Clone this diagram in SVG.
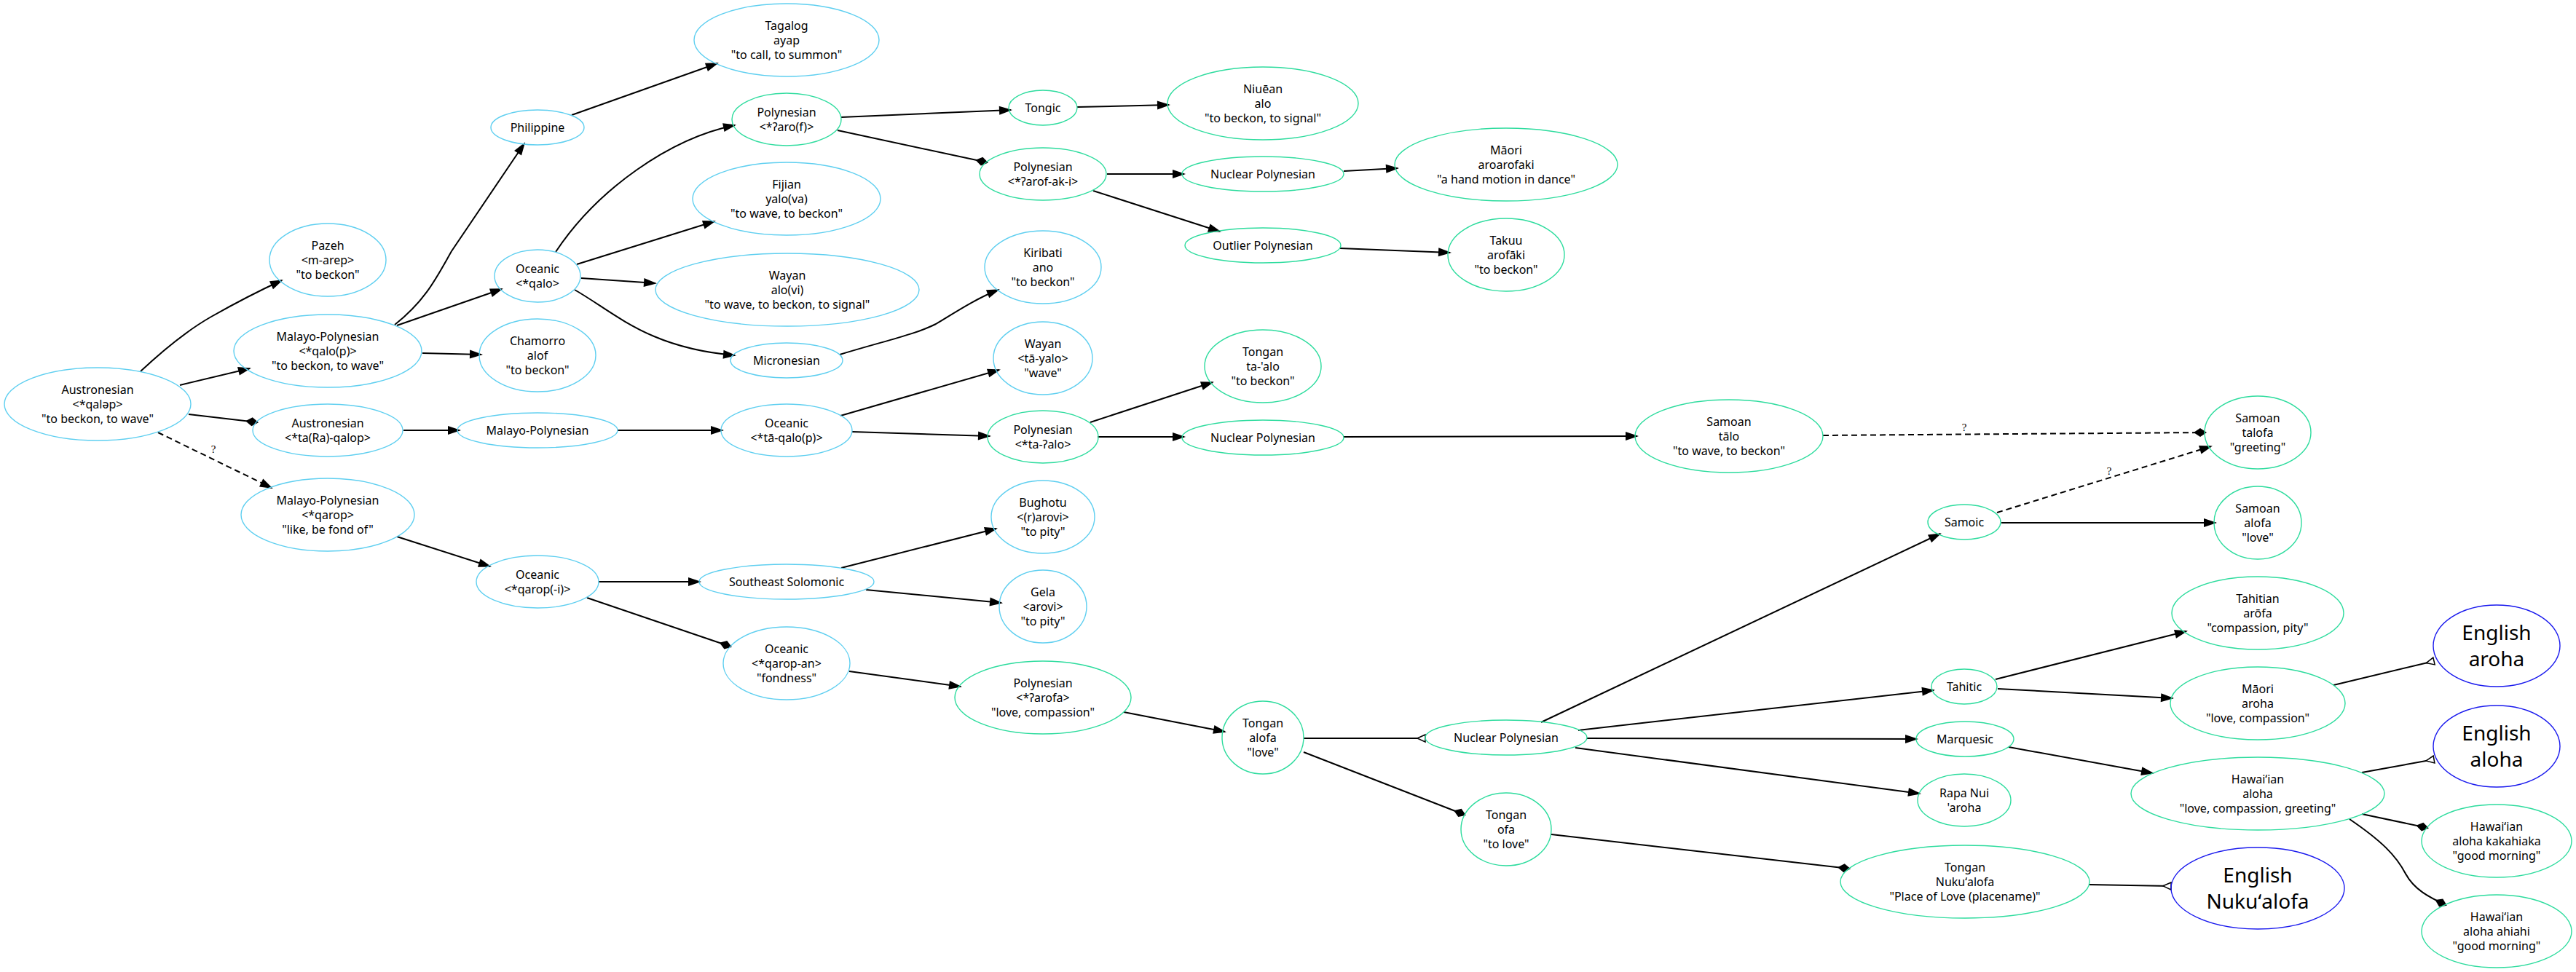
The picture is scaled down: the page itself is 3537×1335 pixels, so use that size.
<svg xmlns="http://www.w3.org/2000/svg" width="3537" height="1335" viewBox="0 0 3537 1335">
<style>
.n ellipse{fill:none;stroke-width:1.4}
.b ellipse{stroke:#5fcff0}
.g ellipse{stroke:#2edc9e}
.e ellipse{stroke:#1a1aee}
text{font-family:"Noto Sans","DejaVu Sans",sans-serif;font-size:16px;text-anchor:middle;fill:#000}
.e text{font-size:28px}
.edge{fill:none;stroke:#000;stroke-width:2}
.dash{stroke-dasharray:8,5}
text.q{font-family:"Liberation Serif",serif;font-size:15px}
</style>
<defs>
<marker id="arr" markerUnits="userSpaceOnUse" markerWidth="18" markerHeight="12" refX="16" refY="6" orient="auto" overflow="visible"><path d="M0,0 L18,6 L0,12 z" fill="#000"/></marker>
<marker id="dia" markerUnits="userSpaceOnUse" markerWidth="18" markerHeight="12" refX="16" refY="6" orient="auto" overflow="visible"><path d="M0,6 L9,0 L18,6 L9,12 z" fill="#000"/></marker>
<marker id="oinv" markerUnits="userSpaceOnUse" markerWidth="12" markerHeight="10" refX="11" refY="5" orient="auto" overflow="visible"><path d="M0,5 L11,0 L11,10 z" fill="#fff" stroke="#000" stroke-width="1.5"/></marker>
</defs>
<rect width="3537" height="1335" fill="#fff"/>
<g id="connectors">
<path class="edge" d="M193,510 C225,480 255,455 290,435 C320,418 350,402 387,385" marker-end="url(#arr)"/>
<path class="edge" d="M247,529 L343,506" marker-end="url(#arr)"/>
<path class="edge" d="M259,569 L353,580" marker-end="url(#dia)"/>
<path class="edge dash" d="M217,594 L373,670" marker-end="url(#arr)"/>
<text class="q" x="293" y="622">?</text>
<path class="edge" d="M542,446 C585,412 600,380 620,345 L720,197" marker-end="url(#arr)"/>
<path class="edge" d="M545,447 L689,397" marker-end="url(#arr)"/>
<path class="edge" d="M580,485 L661,487" marker-end="url(#arr)"/>
<path class="edge" d="M785,158 L985,87" marker-end="url(#arr)"/>
<path class="edge" d="M763,346 C820,260 920,190 1009,172" marker-end="url(#arr)"/>
<path class="edge" d="M792,363 L981,304" marker-end="url(#arr)"/>
<path class="edge" d="M798,382 L900,389" marker-end="url(#arr)"/>
<path class="edge" d="M789,398 C845,430 890,478 1009,488" marker-end="url(#arr)"/>
<path class="edge" d="M1153,487 C1215,468 1255,460 1285,445 C1310,430 1340,410 1371,398" marker-end="url(#arr)"/>
<path class="edge" d="M1155,161 L1388,151" marker-end="url(#arr)"/>
<path class="edge" d="M1150,179 L1355,223" marker-end="url(#dia)"/>
<path class="edge" d="M1479,147 L1605,144" marker-end="url(#arr)"/>
<path class="edge" d="M1520,239 L1626,239" marker-end="url(#arr)"/>
<path class="edge" d="M1501,262 L1675,318" marker-end="url(#arr)"/>
<path class="edge" d="M1845,235 L1919,231" marker-end="url(#arr)"/>
<path class="edge" d="M1840,341 L1991,347" marker-end="url(#arr)"/>
<path class="edge" d="M554,591 L631,591" marker-end="url(#arr)"/>
<path class="edge" d="M848,591 L992,591" marker-end="url(#arr)"/>
<path class="edge" d="M1154,571 L1372,508" marker-end="url(#arr)"/>
<path class="edge" d="M1170,593 L1359,599" marker-end="url(#arr)"/>
<path class="edge" d="M1497,580 L1665,525" marker-end="url(#arr)"/>
<path class="edge" d="M1507,600 L1626,600" marker-end="url(#arr)"/>
<path class="edge" d="M1845,600 L2248,599" marker-end="url(#arr)"/>
<path class="edge dash" d="M2503,598 L3028,594" marker-end="url(#dia)"/>
<text class="q" x="2697" y="592">?</text>
<path class="edge dash" d="M2742,704 L3036,613" marker-end="url(#arr)"/>
<text class="q" x="2896" y="652">?</text>
<path class="edge" d="M2748,718 L3042,718" marker-end="url(#arr)"/>
<path class="edge" d="M545,737 L673,778" marker-end="url(#arr)"/>
<path class="edge" d="M822,799 L961,799" marker-end="url(#arr)"/>
<path class="edge" d="M806,821 L1003,888" marker-end="url(#dia)"/>
<path class="edge" d="M1155,780 L1368,726" marker-end="url(#arr)"/>
<path class="edge" d="M1189,810 L1375,828" marker-end="url(#arr)"/>
<path class="edge" d="M1166,922 L1319,943" marker-end="url(#arr)"/>
<path class="edge" d="M1543,978 L1682,1005" marker-end="url(#arr)"/>
<path class="edge" d="M1790,1014 L1957,1014" marker-end="url(#oinv)"/>
<path class="edge" d="M1790,1033 L2011,1119" marker-end="url(#dia)"/>
<path class="edge" d="M2116,992 L2664,733" marker-end="url(#arr)"/>
<path class="edge" d="M2167,1003 L2655,948" marker-end="url(#arr)"/>
<path class="edge" d="M2179,1014 L2632,1015" marker-end="url(#arr)"/>
<path class="edge" d="M2163,1027 L2636,1090" marker-end="url(#arr)"/>
<path class="edge" d="M2130,1146 L2539,1193" marker-end="url(#dia)"/>
<path class="edge" d="M2740,933 L3002,867" marker-end="url(#arr)"/>
<path class="edge" d="M2743,946 L2983,959" marker-end="url(#arr)"/>
<path class="edge" d="M2758,1026 L2956,1062" marker-end="url(#arr)"/>
<path class="edge" d="M3204,941 L3342,908" marker-end="url(#oinv)"/>
<path class="edge" d="M3243,1061 L3342,1043" marker-end="url(#oinv)"/>
<path class="edge" d="M3243,1118 L3333,1137" marker-end="url(#dia)"/>
<path class="edge" d="M3226,1125 C3270,1155 3290,1175 3303,1200 C3315,1222 3335,1232 3358,1243" marker-end="url(#dia)"/>
<path class="edge" d="M2869,1215 L2981,1217" marker-end="url(#oinv)"/>
</g>
<g id="n_austronesian1" class="n b"><ellipse cx="134" cy="555" rx="128" ry="50"/><text x="134" y="541">Austronesian</text><text x="134" y="561">&lt;*qaləp&gt;</text><text x="134" y="581">"to beckon, to wave"</text></g>
<g id="n_pazeh" class="n b"><ellipse cx="450" cy="357" rx="80" ry="50"/><text x="450" y="343">Pazeh</text><text x="450" y="363">&lt;m-arep&gt;</text><text x="450" y="383">"to beckon"</text></g>
<g id="n_mp1" class="n b"><ellipse cx="450" cy="482" rx="129" ry="50"/><text x="450" y="468">Malayo-Polynesian</text><text x="450" y="488">&lt;*qalo(p)&gt;</text><text x="450" y="508">"to beckon, to wave"</text></g>
<g id="n_austronesian2" class="n b"><ellipse cx="450" cy="591" rx="103" ry="36"/><text x="450" y="587">Austronesian</text><text x="450" y="607">&lt;*ta(Ra)-qalop&gt;</text></g>
<g id="n_mp3" class="n b"><ellipse cx="450" cy="707" rx="119" ry="50"/><text x="450" y="693">Malayo-Polynesian</text><text x="450" y="713">&lt;*qarop&gt;</text><text x="450" y="733">"like, be fond of"</text></g>
<g id="n_philippine" class="n b"><ellipse cx="738" cy="175" rx="64" ry="24"/><text x="738" y="181">Philippine</text></g>
<g id="n_oceanic1" class="n b"><ellipse cx="738" cy="379" rx="59" ry="36"/><text x="738" y="375">Oceanic</text><text x="738" y="395">&lt;*qalo&gt;</text></g>
<g id="n_chamorro" class="n b"><ellipse cx="738" cy="488" rx="80" ry="50"/><text x="738" y="474">Chamorro</text><text x="738" y="494">alof</text><text x="738" y="514">"to beckon"</text></g>
<g id="n_mp2" class="n b"><ellipse cx="738" cy="591" rx="110" ry="24"/><text x="738" y="597">Malayo-Polynesian</text></g>
<g id="n_oceanic4" class="n b"><ellipse cx="738" cy="799" rx="84" ry="36"/><text x="738" y="795">Oceanic</text><text x="738" y="815">&lt;*qarop(-i)&gt;</text></g>
<g id="n_tagalog" class="n b"><ellipse cx="1080" cy="55" rx="127" ry="50"/><text x="1080" y="41">Tagalog</text><text x="1080" y="61">ayap</text><text x="1080" y="81">"to call, to summon"</text></g>
<g id="n_polyA" class="n g"><ellipse cx="1080" cy="164" rx="75" ry="36"/><text x="1080" y="160">Polynesian</text><text x="1080" y="180">&lt;*ʔaro(f)&gt;</text></g>
<g id="n_fijian" class="n b"><ellipse cx="1080" cy="273" rx="129" ry="50"/><text x="1080" y="259">Fijian</text><text x="1080" y="279">yalo(va)</text><text x="1080" y="299">"to wave, to beckon"</text></g>
<g id="n_wayan1" class="n b"><ellipse cx="1081" cy="398" rx="181" ry="50"/><text x="1081" y="384">Wayan</text><text x="1081" y="404">alo(vi)</text><text x="1081" y="424">"to wave, to beckon, to signal"</text></g>
<g id="n_micronesian" class="n b"><ellipse cx="1080" cy="495" rx="77" ry="24"/><text x="1080" y="501">Micronesian</text></g>
<g id="n_oceanic2" class="n b"><ellipse cx="1080" cy="591" rx="90" ry="36"/><text x="1080" y="587">Oceanic</text><text x="1080" y="607">&lt;*tā-qalo(p)&gt;</text></g>
<g id="n_sesolomonic" class="n b"><ellipse cx="1080" cy="799" rx="120" ry="24"/><text x="1080" y="805">Southeast Solomonic</text></g>
<g id="n_oceanic5" class="n b"><ellipse cx="1080" cy="911" rx="87" ry="50"/><text x="1080" y="897">Oceanic</text><text x="1080" y="917">&lt;*qarop-an&gt;</text><text x="1080" y="937">"fondness"</text></g>
<g id="n_tongic" class="n g"><ellipse cx="1432" cy="148" rx="47" ry="24"/><text x="1432" y="154">Tongic</text></g>
<g id="n_polyB" class="n g"><ellipse cx="1432" cy="239" rx="87" ry="36"/><text x="1432" y="235">Polynesian</text><text x="1432" y="255">&lt;*ʔarof-ak-i&gt;</text></g>
<g id="n_kiribati" class="n b"><ellipse cx="1432" cy="367" rx="80" ry="50"/><text x="1432" y="353">Kiribati</text><text x="1432" y="373">ano</text><text x="1432" y="393">"to beckon"</text></g>
<g id="n_wayan2" class="n b"><ellipse cx="1432" cy="492" rx="68" ry="50"/><text x="1432" y="478">Wayan</text><text x="1432" y="498">&lt;tā-yalo&gt;</text><text x="1432" y="518">"wave"</text></g>
<g id="n_polyC" class="n g"><ellipse cx="1432" cy="600" rx="76" ry="36"/><text x="1432" y="596">Polynesian</text><text x="1432" y="616">&lt;*ta-ʔalo&gt;</text></g>
<g id="n_bughotu" class="n b"><ellipse cx="1432" cy="710" rx="71" ry="50"/><text x="1432" y="696">Bughotu</text><text x="1432" y="716">&lt;(r)arovi&gt;</text><text x="1432" y="736">"to pity"</text></g>
<g id="n_gela" class="n b"><ellipse cx="1432" cy="833" rx="60" ry="50"/><text x="1432" y="819">Gela</text><text x="1432" y="839">&lt;arovi&gt;</text><text x="1432" y="859">"to pity"</text></g>
<g id="n_polyD" class="n g"><ellipse cx="1432" cy="958" rx="121" ry="50"/><text x="1432" y="944">Polynesian</text><text x="1432" y="964">&lt;*ʔarofa&gt;</text><text x="1432" y="984">"love, compassion"</text></g>
<g id="n_niuean" class="n g"><ellipse cx="1734" cy="142" rx="131" ry="50"/><text x="1734" y="128">Niuēan</text><text x="1734" y="148">alo</text><text x="1734" y="168">"to beckon, to signal"</text></g>
<g id="n_np1" class="n g"><ellipse cx="1734" cy="239" rx="111" ry="24"/><text x="1734" y="245">Nuclear Polynesian</text></g>
<g id="n_outlier" class="n g"><ellipse cx="1734" cy="337" rx="107" ry="24"/><text x="1734" y="343">Outlier Polynesian</text></g>
<g id="n_tongan_taalo" class="n g"><ellipse cx="1734" cy="503" rx="80" ry="50"/><text x="1734" y="489">Tongan</text><text x="1734" y="509">ta-'alo</text><text x="1734" y="529">"to beckon"</text></g>
<g id="n_np2" class="n g"><ellipse cx="1734" cy="601" rx="111" ry="24"/><text x="1734" y="607">Nuclear Polynesian</text></g>
<g id="n_tongan_alofa" class="n g"><ellipse cx="1734" cy="1013" rx="56" ry="50"/><text x="1734" y="999">Tongan</text><text x="1734" y="1019">alofa</text><text x="1734" y="1039">"love"</text></g>
<g id="n_maori1" class="n g"><ellipse cx="2068" cy="226" rx="153" ry="50"/><text x="2068" y="212">Māori</text><text x="2068" y="232">aroarofaki</text><text x="2068" y="252">"a hand motion in dance"</text></g>
<g id="n_takuu" class="n g"><ellipse cx="2068" cy="350" rx="80" ry="50"/><text x="2068" y="336">Takuu</text><text x="2068" y="356">arofāki</text><text x="2068" y="376">"to beckon"</text></g>
<g id="n_np3" class="n g"><ellipse cx="2068" cy="1013" rx="111" ry="24"/><text x="2068" y="1019">Nuclear Polynesian</text></g>
<g id="n_tongan_ofa" class="n g"><ellipse cx="2068" cy="1139" rx="62" ry="50"/><text x="2068" y="1125">Tongan</text><text x="2068" y="1145">ofa</text><text x="2068" y="1165">"to love"</text></g>
<g id="n_samoan_talo" class="n g"><ellipse cx="2374" cy="599" rx="129" ry="50"/><text x="2374" y="585">Samoan</text><text x="2374" y="605">tālo</text><text x="2374" y="625">"to wave, to beckon"</text></g>
<g id="n_samoic" class="n g"><ellipse cx="2697" cy="717" rx="50" ry="24"/><text x="2697" y="723">Samoic</text></g>
<g id="n_tahitic" class="n g"><ellipse cx="2697" cy="943" rx="45" ry="24"/><text x="2697" y="949">Tahitic</text></g>
<g id="n_marquesic" class="n g"><ellipse cx="2698" cy="1015" rx="67" ry="24"/><text x="2698" y="1021">Marquesic</text></g>
<g id="n_rapanui" class="n g"><ellipse cx="2697" cy="1099" rx="64" ry="36"/><text x="2697" y="1095">Rapa Nui</text><text x="2697" y="1115">'aroha</text></g>
<g id="n_tongan_nukualofa" class="n g"><ellipse cx="2698" cy="1211" rx="171" ry="50"/><text x="2698" y="1197">Tongan</text><text x="2698" y="1217">Nukuʻalofa</text><text x="2698" y="1237">"Place of Love (placename)"</text></g>
<g id="n_samoan_talofa" class="n g"><ellipse cx="3100" cy="594" rx="73" ry="50"/><text x="3100" y="580">Samoan</text><text x="3100" y="600">talofa</text><text x="3100" y="620">"greeting"</text></g>
<g id="n_samoan_alofa" class="n g"><ellipse cx="3100" cy="718" rx="60" ry="50"/><text x="3100" y="704">Samoan</text><text x="3100" y="724">alofa</text><text x="3100" y="744">"love"</text></g>
<g id="n_tahitian" class="n g"><ellipse cx="3100" cy="842" rx="118" ry="50"/><text x="3100" y="828">Tahitian</text><text x="3100" y="848">arōfa</text><text x="3100" y="868">"compassion, pity"</text></g>
<g id="n_maori2" class="n g"><ellipse cx="3100" cy="966" rx="120" ry="50"/><text x="3100" y="952">Māori</text><text x="3100" y="972">aroha</text><text x="3100" y="992">"love, compassion"</text></g>
<g id="n_hawaiian" class="n g"><ellipse cx="3100" cy="1090" rx="174" ry="50"/><text x="3100" y="1076">Hawaiʻian</text><text x="3100" y="1096">aloha</text><text x="3100" y="1116">"love, compassion, greeting"</text></g>
<g id="n_eng_nukualofa" class="n e"><ellipse cx="3100" cy="1220" rx="119" ry="56"/><text x="3100" y="1212">English</text><text x="3100" y="1248">Nukuʻalofa</text></g>
<g id="n_eng_aroha" class="n e"><ellipse cx="3428" cy="887" rx="87" ry="56"/><text x="3428" y="879">English</text><text x="3428" y="915">aroha</text></g>
<g id="n_eng_aloha" class="n e"><ellipse cx="3428" cy="1025" rx="87" ry="56"/><text x="3428" y="1017">English</text><text x="3428" y="1053">aloha</text></g>
<g id="n_haw_kakahiaka" class="n g"><ellipse cx="3428" cy="1155" rx="103" ry="50"/><text x="3428" y="1141">Hawaiʻian</text><text x="3428" y="1161">aloha kakahiaka</text><text x="3428" y="1181">"good morning"</text></g>
<g id="n_haw_ahiahi" class="n g"><ellipse cx="3428" cy="1279" rx="103" ry="50"/><text x="3428" y="1265">Hawaiʻian</text><text x="3428" y="1285">aloha ahiahi</text><text x="3428" y="1305">"good morning"</text></g>
</svg>
